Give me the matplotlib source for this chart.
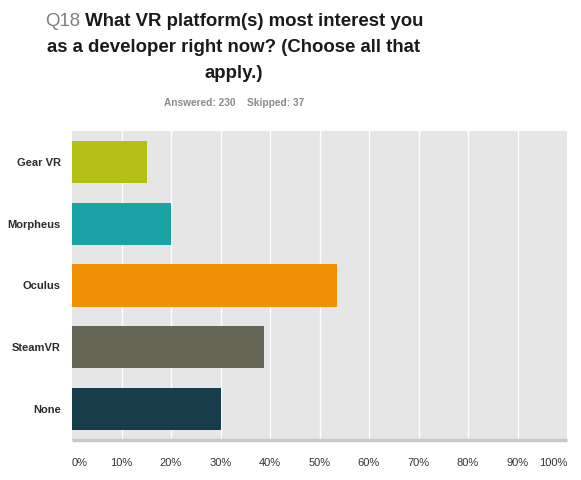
import matplotlib
matplotlib.use("Agg")
import matplotlib.pyplot as plt

categories = ["Gear VR", "Morpheus", "Oculus", "SteamVR", "None"]
values = [15.2, 20.0, 53.5, 38.7, 30.0]
colors = ["#b5c017", "#1aa3a5", "#f09105", "#656656", "#173c4a"]
xticks = [0, 10, 20, 30, 40, 50, 60, 70, 80, 90, 100]
xtick_labels = ["0%", "10%", "20%", "30%", "40%", "50%", "60%", "70%", "80%", "90%", "100%"]

plt.rcParams['font.family'] = ['Liberation Sans', 'DejaVu Sans']

W, H = 581, 480
fig = plt.figure(figsize=(W / 100, H / 100), dpi=100)
ax = fig.add_axes([72 / W, 1 - 440 / H, (567 - 72) / W, (440 - 131) / H])
ax.set_facecolor("#e6e6e6")

ypos = list(range(len(categories)))
for xv in xticks[1:-1]:
    ax.axvline(xv, color="white", lw=1.0, zorder=1)
ax.barh(ypos, values, height=0.68, color=colors, zorder=2)
ax.set_xlim(0, 100)
ax.set_ylim(len(categories) - 0.5, -0.5)

ax.set_yticks(ypos)
ax.set_yticklabels(categories, fontsize=8, fontweight="bold", color="#2b2b2b")
ax.set_xticks(xticks)
ax.set_xticklabels(xtick_labels, fontsize=8, color="#333333")
ax.tick_params(axis="both", length=0)
ax.tick_params(axis="y", pad=8)
ax.tick_params(axis="x", pad=13)
labels = ax.get_xticklabels()
labels[0].set_horizontalalignment("left")
labels[-1].set_horizontalalignment("right")

for s in ["top", "right", "left"]:
    ax.spines[s].set_visible(False)
ax.spines["bottom"].set_color("#c8c8c8")
ax.spines["bottom"].set_linewidth(2.4)
ax.spines["bottom"].set_capstyle("butt")

# Title with gray "Q18" prefix
cx = 234 / W
title_fs = 13.4
renderer = fig.canvas.get_renderer()
t_q = fig.text(0, 1 - 22 / H, "Q18", fontsize=title_fs, color="#7f7f7f", va="center", ha="left")
t_rest = fig.text(0, 1 - 22 / H, " What VR platform(s) most interest you", fontsize=title_fs,
                  fontweight="bold", color="#1a1a1a", va="center", ha="left")
wq = t_q.get_window_extent(renderer).width
wr = t_rest.get_window_extent(renderer).width
start = 234 - (wq + wr) / 2
t_q.set_x(start / W)
t_rest.set_x((start + wq) / W)

fig.text(cx, 1 - 48 / H, "as a developer right now? (Choose all that", fontsize=title_fs,
         fontweight="bold", color="#1a1a1a", va="center", ha="center")
fig.text(cx, 1 - 73 / H, "apply.)", fontsize=title_fs,
         fontweight="bold", color="#1a1a1a", va="center", ha="center")
fig.text(cx, 1 - 103 / H, "Answered: 230    Skipped: 37", fontsize=7.3, fontweight="bold",
         color="#8a8a8a", va="center", ha="center")

fig.savefig("out.png", dpi=100, facecolor="white")
